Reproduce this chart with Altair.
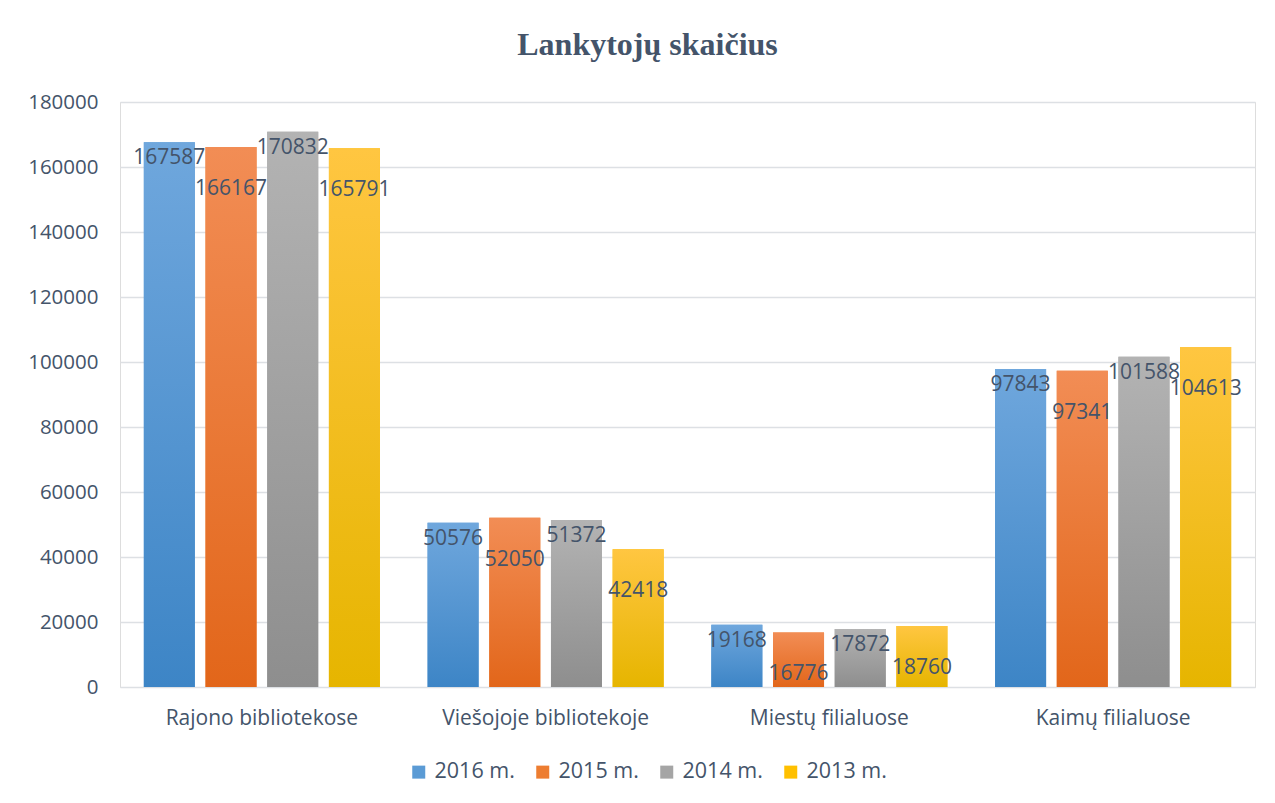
import altair as alt
import pandas as pd

categories = ["Rajono bibliotekose", "Viešojoje bibliotekoje", "Miestų filialuose", "Kaimų filialuose"]
series = ["2016 m.", "2015 m.", "2014 m.", "2013 m."]
values_2016 = [167587, 50576, 19168, 97843]
values_2015 = [166167, 52050, 16776, 97341]
values_2014 = [170832, 51372, 17872, 101588]
values_2013 = [165791, 42418, 18760, 104613]

base_colors = ["#5B9BD5", "#ED7D31", "#A5A5A5", "#FFC000"]
grad_stops = [
    ("#6FA7DD", "#3D85C6"),
    ("#F28D55", "#E2661A"),
    ("#B3B3B3", "#8E8E8E"),
    ("#FFC641", "#E6B500"),
]

rows = []
for s, vals in zip(series, [values_2016, values_2015, values_2014, values_2013]):
    for c, v in zip(categories, vals):
        rows.append({"cat": c, "series": s, "value": v})
df = pd.DataFrame(rows)

text_color = "#44546A"
font = "Open Sans"

x_enc = alt.X("cat:N", sort=categories, title=None,
              scale=alt.Scale(paddingInner=0.168, paddingOuter=0.084),
              axis=alt.Axis(labelAngle=0, domain=False, ticks=False, labelPadding=20,
                            labelFontSize=21, labelColor=text_color, labelFont=font,
                            labelLimit=400))
xoff_enc = alt.XOffset("series:N", sort=series,
                       scale=alt.Scale(paddingInner=0.173, paddingOuter=0))
y_enc = alt.Y("value:Q", title=None,
              scale=alt.Scale(domain=[0, 180000], nice=False),
              axis=alt.Axis(values=list(range(0, 180001, 20000)), format="d",
                            domain=False, ticks=False, labelPadding=22,
                            labelFontSize=20.5, labelColor=text_color, labelFont=font,
                            gridColor="#DDE0E4", gridWidth=1.5))

base = alt.Chart(df).encode(x=x_enc, xOffset=xoff_enc, y=y_enc)

legend_bars = base.mark_bar().encode(
    color=alt.Color("series:N", sort=series,
                    scale=alt.Scale(domain=series, range=base_colors),
                    legend=alt.Legend(title=None, orient="none", direction="horizontal",
                                      legendX=288, legendY=659, symbolType="square",
                                      symbolSize=169, symbolStrokeWidth=0,
                                      labelFontSize=21.5, labelColor=text_color,
                                      labelFont=font, columnPadding=17, labelOffset=5,
                                      labelLimit=200))
)

layers = [legend_bars]
for s, (top, bottom) in zip(series, grad_stops):
    grad = alt.LinearGradient(gradient="linear", x1=0, y1=0, x2=0, y2=1,
                              stops=[alt.GradientStop(color=top, offset=0),
                                     alt.GradientStop(color=bottom, offset=1)])
    layers.append(base.transform_filter(alt.datum.series == s).mark_bar(fill=grad))

# staggered data labels (alternate series sit lower so neighbours don't collide)
for group, dy in [([series[0], series[2]], 16), ([series[1], series[3]], 42)]:
    layers.append(
        base.transform_filter(alt.FieldOneOfPredicate(field="series", oneOf=group))
        .mark_text(dy=dy, fontSize=21, color=text_color, font=font, baseline="middle")
        .encode(text=alt.Text("value:Q", format="d"))
    )

chart = alt.layer(*layers).properties(
    width=1135, height=585,
    autosize=alt.AutoSizeParams(type="none"),
    padding={"left": 112, "top": 94, "right": 10, "bottom": 100},
    title=alt.TitleParams("Lankytojų skaičius", font="Liberation Serif", fontSize=32,
                          fontWeight="bold", color=text_color, anchor="middle",
                          offset=30, dx=-40),
).configure_view(stroke=None).configure(background="white")

chart.save("out.html", embed_options={"renderer": "svg", "actions": False})
